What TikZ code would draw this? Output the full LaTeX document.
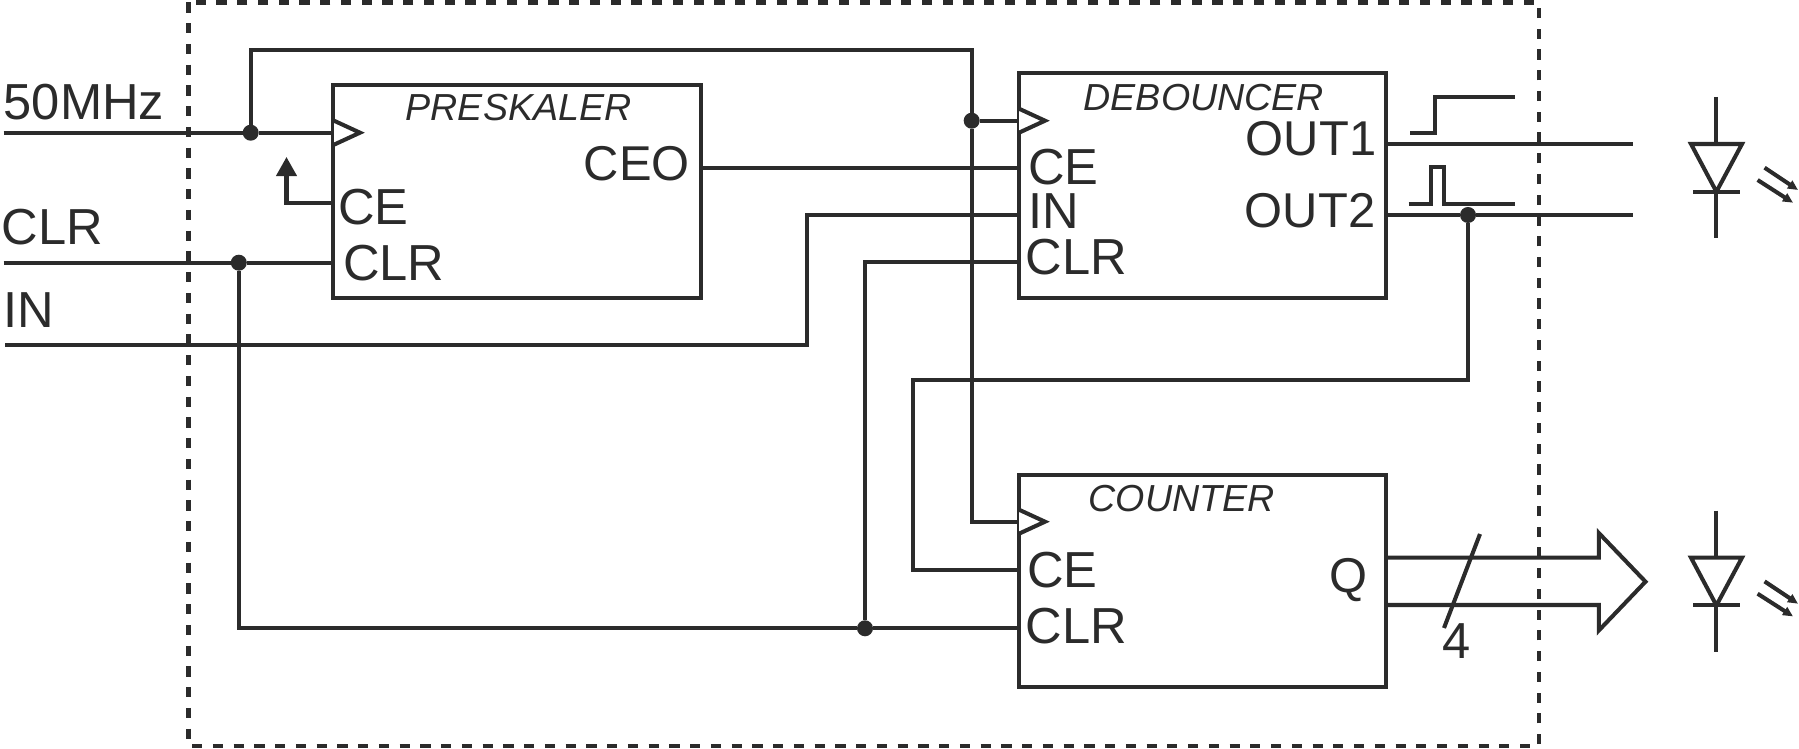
\documentclass[tikz,border=0pt]{standalone}
\usepackage{fontspec}
\setmainfont{Liberation Sans}
\usetikzlibrary{arrows.meta}
\definecolor{ink}{HTML}{2B2B2B}
\tikzset{
  wire/.style={line width=1.15pt,draw=ink},
  blockbox/.style={wire,rectangle,minimum width=3.67cm,inner sep=0pt,outer sep=0pt},
  port/.style={text=ink,inner sep=0pt,font=\fontsize{14.4}{14}\selectfont},
  outport/.style={port,anchor=base east,font=\fontsize{13.9}{14}\selectfont},
  blocktitle/.style={text=ink,inner sep=0pt,anchor=base west,font=\fontsize{10.7}{11}\selectfont\itshape},
  dot/.style={circle,fill=ink,inner sep=0pt,outer sep=0pt,minimum size=0.16cm},
}
\begin{document}
\begin{tikzpicture}[x=0.01cm,y=-0.01cm,line join=miter]
    \useasboundingbox (0,0) rectangle (1799,749);
    \draw[wire,line width=1.3pt,dash pattern=on 2.9pt off 3pt] (188.7,2.5) rectangle (1539,746);
    % blocks
    \node[blockbox,minimum height=2.13cm] (preskaler) at (517,191.5) {};
    \node[blockbox,minimum height=2.24cm] (debouncer) at (1202.5,185.5) {};
    \node[blockbox,minimum height=2.12cm] (counter) at (1202.5,581) {};
    \node[blocktitle] (preskalertitle) at (405,120.7) {PRESKALER};
    \node[blocktitle] (debouncertitle) at (1083,110.5) {DEBOUNCER};
    \node[blocktitle] (countertitle) at (1088,511.7) {COUNTER};
    % texts
    \node[port,anchor=base west] (lab50) at (3,119.3) {50MHz};
    \node[port,anchor=base west] (labclr) at (1,245) {CLR};
    \node[port,anchor=base west] (labin) at (3,327.7) {IN};
    \node[port,anchor=base west] (pce) at (337.5,224.5) {CE};
    \node[port,anchor=base west] (pclr) at (342.5,281) {CLR};
    \node[outport] (pceo) at (690.5,181) {CEO};
    \node[port,anchor=base west] (dce) at (1027.5,185) {CE};
    \node[port,anchor=base west] (din) at (1028,228.3) {IN};
    \node[port,anchor=base west] (dclr) at (1025,275) {CLR};
    \node[outport] (dout1) at (1377,155.5) {OUT1};
    \node[outport] (dout2) at (1376,227.5) {OUT2};
    \node[port,anchor=base west] (cce) at (1026.5,587.5) {CE};
    \node[port,anchor=base west] (cclr) at (1025,644) {CLR};
    \node[outport] (cq) at (1368,593) {Q};
    \node[port,anchor=base] (busw) at (1457,659) {4};
    % junctions and free ends
    \node[dot] (clkdot) at (250.7,132.7) {};
    \node[dot] (clrdot) at (238.8,262.7) {};
    \node[dot] (debclk) at (971.7,120.7) {};
    \node[dot] (clrbus) at (865,628.3) {};
    \node[dot] (outdot) at (1468,215) {};
    \coordinate (in50) at (3.7,132.7);
    \coordinate (inclr) at (3.7,262.7);
    \coordinate (inin) at (5,345);
    \coordinate (ceup) at (286.5,157);
    \coordinate (cestub) at (334,203.3);
    \coordinate (out1end) at (1633,144.3);
    \coordinate (out2end) at (1633,215);
    \coordinate (cntclk) at (1019,521.7);
    \coordinate (cntce) at (1019,570);
    % wires
    \draw[wire] (in50)--(clkdot)--(preskaler.west |- clkdot);
    \draw[wire] (clkdot)--(250.7,50)--(971.7,50)--(debclk)--(debouncer.west |- debclk);
    \draw[wire] (debclk)--(971.7,521.7)--(cntclk);
    \draw[wire,-{Triangle[length=0.19cm,width=0.2cm]}] (cestub)--(286.5,203.3)--(ceup);
    \draw[wire] (inclr)--(clrdot)--(preskaler.west |- clrdot);
    \draw[wire] (clrdot)--(238.8,628.3)--(clrbus)--(counter.west |- clrbus);
    \draw[wire] (clrbus)--(865,262)--(debouncer.west |- 0,262);
    \draw[wire] (inin)--(806.6,345)--(806.6,215)--(debouncer.west |- 0,215);
    \draw[wire] (preskaler.east |- 0,167.7)--(debouncer.west |- 0,167.7);
    \draw[wire] (debouncer.east |- out1end)--(out1end);
    \draw[wire] (debouncer.east |- out2end)--(outdot)--(out2end);
    \draw[wire] (outdot)--(1468,380.3)--(913,380.3)--(913,570)--(cntce);
    % clock marks
    \foreach \c/\t in {334/132.7,1019/120.7,1019/521.7}
        \draw[wire,fill=white] (\c,\t-12)--(\c+26,\t)--(\c,\t+12);
    % output pulses
    \draw[wire] (1410,132.7)--(1435,132.7)--(1435,97.3)--(1514.8,97.3);
    \draw[wire] (1408.5,203.7)--(1431,203.7)--(1431,167.3)--(1444.3,167.3)--(1444.3,203.7)--(1514.8,203.7);
    % bus
    \draw[wire] (counter.east |- 0,557.7)--(1598.8,557.7)--(1598.8,533)--(1645.5,581.7)--(1598.8,630.5)--(1598.8,605)--(counter.east |- 0,605);
    \draw[wire] (1480,534)--(1444,628);
    % leds
    \foreach \y in {0,413.7}{
        \draw[wire] (1716.4,97+\y)--(1716.4,144+\y);
        \draw[wire] (1691,144+\y)--(1742,144+\y)--(1716.4,191.7+\y)--cycle;
        \draw[wire] (1693,191.7+\y)--(1740,191.7+\y);
        \draw[wire] (1716.4,191.7+\y)--(1716.4,238+\y);
        \draw[wire,-{Triangle[length=0.1cm,width=0.09cm]}] (1764.6,167.7+\y)--(1798,190+\y);
        \draw[wire,-{Triangle[length=0.1cm,width=0.09cm]}] (1757.6,180+\y)--(1793,202.7+\y);
    }
\end{tikzpicture}
\end{document}
